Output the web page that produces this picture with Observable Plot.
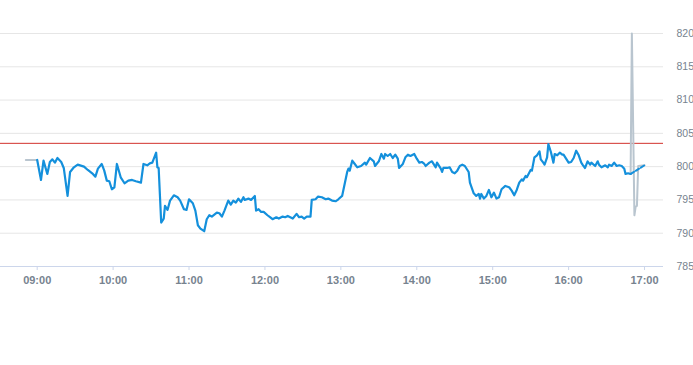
<!DOCTYPE html>
<html>
<head>
<meta charset="utf-8">
<script src="https://cdn.jsdelivr.net/npm/d3@7"></script>
<script src="https://cdn.jsdelivr.net/npm/@observablehq/plot@0.6"></script>
<style>
  html, body { margin: 0; padding: 0; background: #fff; }
</style>
</head>
<body>
<div id="chart"></div>
<script>
// Main intraday series (blue)
const blueTimes = ["09:00","09:03","09:05","09:08","09:10","09:12","09:14","09:16","09:19","09:21","09:24","09:26","09:29","09:32","09:37","09:40","09:44","09:46","09:48","09:51","09:53","09:55","09:57","09:59","10:01","10:03","10:06","10:09","10:12","10:15","10:18","10:22","10:24","10:27","10:29","10:31","10:34","10:35","10:36","10:38","10:40","10:41","10:43","10:45","10:48","10:51","10:53","10:56","10:58","11:00","11:03","11:05","11:07","11:09","11:12","11:14","11:16","11:18","11:22","11:24","11:26","11:28","11:31","11:33","11:35","11:37","11:39","11:41","11:43","11:44","11:47","11:49","11:52","11:53","11:55","11:57","11:59","12:02","12:04","12:06","12:09","12:11","12:14","12:16","12:18","12:20","12:22","12:25","12:27","12:29","12:31","12:33","12:36","12:37","12:40","12:42","12:45","12:48","12:50","12:53","12:56","12:58","13:01","13:05","13:06","13:07","13:09","13:11","13:13","13:16","13:19","13:20","13:23","13:26","13:27","13:30","13:32","13:34","13:35","13:37","13:39","13:41","13:43","13:45","13:46","13:49","13:51","13:53","13:55","13:58","14:00","14:02","14:04","14:06","14:07","14:10","14:12","14:14","14:15","14:16","14:19","14:20","14:21","14:24","14:26","14:28","14:30","14:32","14:34","14:36","14:38","14:41","14:42","14:45","14:47","14:49","14:50","14:51","14:53","14:55","14:57","14:59","15:01","15:03","15:05","15:07","15:10","15:13","15:15","15:17","15:19","15:21","15:23","15:24","15:26","15:27","15:30","15:31","15:33","15:35","15:37","15:38","15:40","15:41","15:43","15:44","15:46","15:48","15:49","15:51","15:53","15:55","15:56","15:58","16:00","16:02","16:04","16:06","16:08","16:10","16:11","16:13","16:15","16:17","16:18","16:21","16:23","16:24","16:26","16:29","16:31","16:32","16:34","16:36","16:38","16:40","16:42","16:44","16:45","16:47","16:49"];
const blueValues = [801.0,798.0,800.9,798.9,800.7,801.1,800.6,801.3,800.7,799.8,795.6,799.2,799.9,800.3,800.0,799.5,798.9,798.5,799.7,800.4,799.4,797.9,797.8,796.6,796.9,800.4,798.4,797.5,797.9,798.0,797.8,797.6,800.4,800.2,800.5,800.6,802.1,799.9,799.8,791.6,792.2,794.1,793.5,794.9,795.7,795.4,794.9,793.6,793.5,795.1,794.5,793.4,791.2,790.7,790.3,792.1,792.7,792.5,793.1,793.0,792.5,793.4,794.9,794.3,794.9,794.6,795.2,794.7,795.4,795.0,795.2,795.0,795.6,793.4,793.6,793.2,793.2,792.7,792.4,792.1,792.4,792.2,792.5,792.4,792.6,792.4,792.2,792.9,792.4,792.5,792.2,792.5,792.5,795.0,795.1,795.5,795.4,795.1,795.2,794.9,794.8,795.1,795.6,799.2,799.7,799.4,800.9,800.4,799.9,800.1,800.6,800.3,801.3,800.8,800.1,800.8,801.9,801.2,801.9,801.6,801.9,801.3,801.8,801.2,799.8,800.4,801.4,801.8,801.6,801.9,801.2,800.6,800.7,800.4,800.1,800.6,800.8,800.2,799.9,800.6,799.7,799.2,799.8,799.8,799.9,799.2,799.0,799.4,800.1,800.3,800.1,799.2,797.6,796.0,795.6,795.9,795.2,795.9,795.2,795.6,796.5,795.4,796.1,795.2,795.4,796.6,797.1,796.9,796.4,795.7,796.5,797.6,798.1,797.9,798.6,798.4,799.5,799.4,801.4,801.7,802.3,801.1,800.6,800.3,801.4,803.4,802.2,800.6,801.9,801.7,802.1,801.8,801.8,801.2,800.6,800.7,801.3,802.4,801.7,800.6,800.3,799.8,800.8,800.3,800.6,800.1,800.8,800.3,799.9,800.2,799.9,800.3,800.1,800.6,800.1,800.2,800.1,799.7,798.9,799.0,798.9];

// Dashed blue tail after the close
const tailTimes = ["16:49","17:00"];
const tailValues = [798.9,800.2];

// Grey series: pre-open and closing auction
const preTimes = ["08:51","09:00"];
const preValues = [801.0,801.0];
const auctionTimes = ["16:49","16:50","16:52","16:53","16:54","16:55","17:00"];
const auctionValues = [798.9,820.0,792.7,794.0,794.1,800.1,800.2];

// Reference level (previous close)
const refLevel = [803.5];

// Axes
const xTickLabels = ["09:00","10:00","11:00","12:00","13:00","14:00","15:00","16:00","17:00"];
const yTicks = [785,790,795,800,805,810,815,820];
const xDomain = ["08:31","17:15"];
const yDomain = [785,820];

const t = s => { const [h,m] = s.split(":").map(Number); return new Date(Date.UTC(2024,0,2,h,m)); };
const rows = (ts, vs) => ts.map((s,i) => ({time: t(s), value: vs[i]}));

const blue = rows(blueTimes, blueValues);
const tail = rows(tailTimes, tailValues);
const pre = rows(preTimes, preValues);
const auction = rows(auctionTimes, auctionValues);

const txt = "#77838f";

const chart = Plot.plot({
  width: 693,
  height: 365,
  marginLeft: 0,
  marginRight: 30,
  marginTop: 33,
  marginBottom: 99,
  style: {fontFamily: "'Liberation Sans', Arial, sans-serif", background: "#fff", overflow: "visible"},
  x: {type: "utc", domain: xDomain.map(t)},
  y: {domain: yDomain},
  marks: [
    Plot.gridY(yTicks.filter(d => d > yDomain[0]), {stroke: "#e6e6e6", strokeOpacity: 1}),
    Plot.ruleY([yDomain[0]], {stroke: "#ccd6eb"}),
    Plot.axisX(xTickLabels.map(t), {
      tickSize: 4, tickPadding: 6, stroke: "#ccd6eb", fill: txt,
      fontWeight: "bold", fontSize: 11, tickFormat: d3.utcFormat("%H:%M"), label: null
    }),
    Plot.axisY(yTicks, {anchor: "right", tickSize: 0, tickPadding: 13, fill: txt, fontSize: 10.5, label: null}),
    Plot.ruleY(refLevel, {stroke: "#d2322d", strokeWidth: 1}),
    Plot.line(pre, {x: "time", y: "value", stroke: "#b9c5cf", strokeWidth: 2}),
    Plot.line(auction, {x: "time", y: "value", stroke: "#b9c5cf", strokeWidth: 2, strokeLinejoin: "round"}),
    Plot.line(blue, {x: "time", y: "value", stroke: "#1490dc", strokeWidth: 2.2, strokeLinejoin: "round"}),
    Plot.line(tail, {x: "time", y: "value", stroke: "#1490dc", strokeWidth: 2, strokeDasharray: "4,2"})
  ]
});
document.getElementById("chart").appendChild(chart);
</script>
</body>
</html>
